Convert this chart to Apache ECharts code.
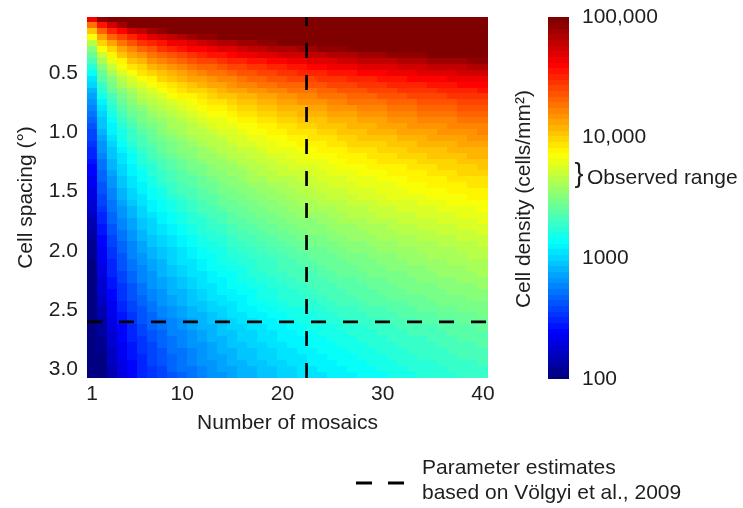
<!DOCTYPE html>
<html>
<head>
<meta charset="utf-8">
<script src="https://cdn.jsdelivr.net/npm/echarts@6/dist/echarts.min.js"></script>
<style>
  html, body { margin: 0; padding: 0; background: #fff; }
  #chart { width: 743px; height: 508px; }
</style>
</head>
<body>
<div id="chart"></div>
<script>
// number of mosaics (columns)
var mosaics = [1, 2, 3, 4, 5, 6, 7, 8, 9, 10, 11, 12, 13, 14, 15, 16, 17, 18, 19, 20,
  21, 22, 23, 24, 25, 26, 27, 28, 29, 30, 31, 32, 33, 34, 35, 36, 37, 38, 39, 40];

// cell spacing in degrees (rows, top to bottom)
var spacing = [0.05, 0.1, 0.15, 0.2, 0.25, 0.3, 0.35, 0.4, 0.45, 0.5,
  0.55, 0.6, 0.65, 0.7, 0.75, 0.8, 0.85, 0.9, 0.95, 1.0,
  1.05, 1.1, 1.15, 1.2, 1.25, 1.3, 1.35, 1.4, 1.45, 1.5,
  1.55, 1.6, 1.65, 1.7, 1.75, 1.8, 1.85, 1.9, 1.95, 2.0,
  2.05, 2.1, 2.15, 2.2, 2.25, 2.3, 2.35, 2.4, 2.45, 2.5,
  2.55, 2.6, 2.65, 2.7, 2.75, 2.8, 2.85, 2.9, 2.95, 3.0, 3.05];

// density (cells/mm2) contributed by one mosaic at each spacing row
var densityOneMosaic = [42170, 18740, 10540, 6747, 4686, 3442, 2636, 2082, 1687, 1394,
  1171, 998, 861, 750, 659, 584, 526, 476, 437, 402,
  372, 345, 319, 297, 279, 261, 245, 231, 217, 206,
  195, 183, 172, 163, 153, 145, 138, 131, 124, 118,
  112.8, 107.6, 102.8, 98.3, 94.0, 90.2, 86.4, 83.0, 79.0, 75.2,
  71.8, 68.4, 65.3, 62.5, 60.3, 58.1, 56.1, 54.3, 52.5, 50.7, 49.2];

// parameter estimates (Völgyi et al., 2009)
var estimateMosaics = 22.4;
var estimateSpacing = 2.6;

var xTicks = [1, 10, 20, 30, 40];
var yTicks = [0.5, 1.0, 1.5, 2.0, 2.5, 3.0];
var colorbarTicks = [100, 1000, 10000, 100000];
var colorbarLabels = ['100', '1000', '10,000', '100,000'];

var densityMin = 100, densityMax = 100000, nLevels = 64;
var jet = ['#000080', '#0000ff', '#0080ff', '#00ffff', '#80ff80', '#ffff00', '#ff8000', '#ff0000', '#800000'];
var font = 'Liberation Sans, Arial, Helvetica, sans-serif';
var textColor = '#1e1e1e';
var fs = 21;

var lo = Math.log10(densityMin), hi = Math.log10(densityMax);
function levelOf(d) {
  var t = (Math.log10(d) - lo) / (hi - lo);
  return Math.max(0, Math.min(nLevels - 1, Math.floor(t * nLevels)));
}

var halfX = (mosaics[1] - mosaics[0]) / 2;
var halfY = (spacing[1] - spacing[0]) / 2;
var xMin = mosaics[0] - halfX, xMax = mosaics[mosaics.length - 1] + halfX;
var yMin = spacing[0] - halfY, yMax = spacing[spacing.length - 1] + halfY;

var cells = [];
for (var i = 0; i < spacing.length; i++) {
  for (var j = 0; j < mosaics.length; j++) {
    var d = mosaics[j] * densityOneMosaic[i];
    cells.push([mosaics[j], spacing[i], levelOf(d), d]);
  }
}

var bands = [];
for (var k = 0; k < nLevels; k++) {
  var a = Math.pow(10, lo + (hi - lo) * k / nLevels);
  var b = Math.pow(10, lo + (hi - lo) * (k + 1) / nLevels);
  bands.push([0.5, a, k, b]);
}

function rectBetween(p0, p1) {
  var x0 = Math.floor(Math.min(p0[0], p1[0])), x1 = Math.ceil(Math.max(p0[0], p1[0]));
  var y0 = Math.floor(Math.min(p0[1], p1[1])), y1 = Math.ceil(Math.max(p0[1], p1[1]));
  return { x: x0, y: y0, width: x1 - x0, height: y1 - y0 };
}

var chart = echarts.init(document.getElementById('chart'));
var option = {
  animation: false,
  textStyle: { fontFamily: font },
  grid: [
    { left: 87, top: 17, width: 401, height: 361 },
    { left: 548, top: 17, width: 21, height: 362 }
  ],
  xAxis: [
    {
      type: 'value', gridIndex: 0, min: xMin, max: xMax,
      axisLine: { show: false }, axisTick: { show: false }, splitLine: { show: false },
      axisLabel: { customValues: xTicks, fontSize: fs, color: textColor, margin: 6, fontFamily: font },
      name: 'Number of mosaics', nameLocation: 'middle', nameGap: 35,
      nameTextStyle: { fontSize: fs, color: textColor, fontFamily: font }
    },
    { type: 'value', gridIndex: 1, min: 0, max: 1, show: false }
  ],
  yAxis: [
    {
      type: 'value', gridIndex: 0, inverse: true, min: yMin, max: yMax,
      axisLine: { show: false }, axisTick: { show: false }, splitLine: { show: false },
      axisLabel: {
        customValues: yTicks, fontSize: fs, color: textColor, margin: 9, fontFamily: font,
        formatter: function (v) { return v.toFixed(1); }
      },
      name: 'Cell spacing (°)', nameLocation: 'middle', nameGap: 50, nameRotate: 90,
      nameTextStyle: { fontSize: fs, color: textColor, fontFamily: font }
    },
    {
      type: 'log', logBase: 10, gridIndex: 1, position: 'right', min: densityMin, max: densityMax,
      axisLine: { show: false }, axisTick: { show: false }, splitLine: { show: false },
      axisLabel: {
        customValues: colorbarTicks, fontSize: fs, color: textColor, margin: 13, fontFamily: font,
        formatter: function (v) {
          var idx = colorbarTicks.indexOf(Math.round(v));
          return idx >= 0 ? colorbarLabels[idx] : '';
        }
      }
    }
  ],
  visualMap: {
    type: 'continuous', show: false, min: 0, max: nLevels - 1, dimension: 2,
    seriesIndex: [0, 3], inRange: { color: jet }
  },
  series: [
    {
      type: 'custom', xAxisIndex: 0, yAxisIndex: 0, data: cells,
      renderItem: function (params, api) {
        var x = api.value(0), y = api.value(1);
        var r = rectBetween(api.coord([x - halfX, y - halfY]), api.coord([x + halfX, y + halfY]));
        return { type: 'rect', shape: r, style: { fill: api.visual('color') } };
      }
    },
    {
      type: 'line', xAxisIndex: 0, yAxisIndex: 0, z: 5, symbol: 'none', silent: true,
      data: [[xMin, estimateSpacing], [xMax, estimateSpacing]],
      lineStyle: { color: '#000', width: 2.7, type: [15, 17] }
    },
    {
      type: 'line', xAxisIndex: 0, yAxisIndex: 0, z: 5, symbol: 'none', silent: true,
      data: [[estimateMosaics, yMax], [estimateMosaics, yMin]],
      lineStyle: { color: '#000', width: 2.7, type: [15, 17] }
    },
    {
      type: 'custom', xAxisIndex: 1, yAxisIndex: 1, data: bands,
      encode: { x: 0, y: 1 },
      renderItem: function (params, api) {
        var r = rectBetween(api.coord([0, api.value(1)]), api.coord([1, api.value(3)]));
        return { type: 'rect', shape: r, style: { fill: api.visual('color') } };
      }
    }
  ],
  graphic: [
    {
      type: 'text', x: 524, y: 199, rotation: Math.PI / 2,
      style: { text: 'Cell density (cells/mm²)', fontSize: fs, fontFamily: font, fill: textColor,
        align: 'center', verticalAlign: 'middle' }
    },
    {
      type: 'text', x: 579, y: 175,
      style: { text: '}', fontSize: 27, fontFamily: font, fill: textColor,
        align: 'center', verticalAlign: 'middle' }
    },
    {
      type: 'text', x: 587, y: 178,
      style: { text: 'Observed range', fontSize: fs, fontFamily: font, fill: textColor,
        align: 'left', verticalAlign: 'middle' }
    },
    {
      type: 'line', shape: { x1: 356, y1: 483, x2: 404, y2: 483 },
      style: { stroke: '#000', lineWidth: 3, lineDash: [16, 16] }
    },
    {
      type: 'text', x: 422, y: 468,
      style: { text: 'Parameter estimates', fontSize: fs, fontFamily: font, fill: textColor,
        align: 'left', verticalAlign: 'middle' }
    },
    {
      type: 'text', x: 422, y: 493,
      style: { text: 'based on Völgyi et al., 2009', fontSize: fs, fontFamily: font, fill: textColor,
        align: 'left', verticalAlign: 'middle' }
    }
  ]
};
chart.setOption(option);
</script>
</body>
</html>
